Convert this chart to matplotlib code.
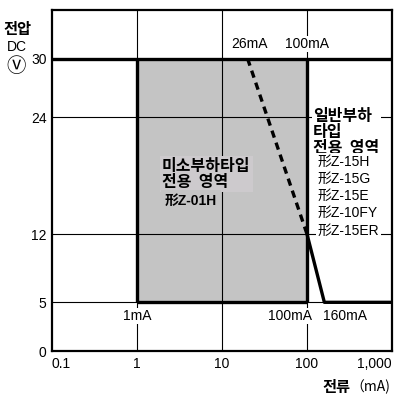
import matplotlib
matplotlib.use("Agg")
import matplotlib.pyplot as plt

plt.rcParams["font.family"] = ["Liberation Sans", "Noto Sans CJK KR", "DejaVu Sans"]
KR = ["Noto Sans CJK KR", "Noto Sans CJK JP", "DejaVu Sans"]
LAT = ["Liberation Sans", "Noto Sans CJK JP", "DejaVu Sans"]

# axis ticks
x_ticks = [0.1, 1, 10, 100, 1000]
x_tick_labels = ["0.1", "1", "10", "100", "1,000"]
y_ticks = [0, 5, 12, 24, 30]

# micro-load region (shaded box)
box_current = [1, 100]
box_voltage = [5, 30]

# general-load boundary: 100mA@12V -> 160mA@5V -> along 5V
general_current = [100, 160, 1000]
general_voltage = [12, 5, 5]

# dashed limit: 26mA@30V -> 100mA@12V
dash_current = [20, 100]
dash_voltage = [30, 12]

micro_lines = ["미소부하타입", "전용  영역"]
general_lines = ["일반부하", "타입", "전용  영역"]
general_models = ["形Z-15H", "形Z-15G", "形Z-15E", "形Z-10FY", "形Z-15ER"]

FILL = "#c4c4c4"

fig = plt.figure(figsize=(4, 3.98), dpi=100)
ax = fig.add_axes([0.13, 0.118, 0.85, 0.857])
ax.set_xscale("log")
ax.set_xlim(0.1, 1000)
ax.set_ylim(0, 35)

# grid
for x in x_ticks[1:4]:
    ax.axvline(x, color="black", lw=0.8, zorder=1)
for y in y_ticks[1:]:
    ax.axhline(y, color="black", lw=0.8, zorder=1)

ax.fill_between(box_current, box_voltage[0], box_voltage[1], color=FILL, lw=0, zorder=0.5)

thick = dict(color="black", lw=2.4, solid_capstyle="butt", zorder=4)
ax.plot([box_current[0]] * 2, box_voltage, **thick)
ax.plot([box_current[1]] * 2, box_voltage, **thick)
ax.plot(box_current, [box_voltage[0]] * 2, **thick)
ax.plot([0.1, 1000], [box_voltage[1]] * 2, **thick)
ax.plot(general_current, general_voltage, **thick)
ax.plot(dash_current, dash_voltage, color="black", lw=2.4, ls=(0, (2.2, 1.6)), zorder=4)

ax.set_xticks(x_ticks)
ax.set_xticklabels(x_tick_labels)
ax.minorticks_off()
ax.set_yticks(y_ticks)
ax.tick_params(length=0, labelsize=10, pad=4)
labels = ax.get_xticklabels()
labels[0].set_ha("left")
labels[-1].set_ha("right")
for s in ax.spines.values():
    s.set_linewidth(1.6)

# current annotations
wb = dict(facecolor="white", edgecolor="none", pad=0.5)
for xv, yv, s in [(21, 31.5, "26mA"), (100, 31.5, "100mA"), (1, 3.6, "1mA"),
                  (63, 3.6, "100mA"), (280, 3.6, "160mA")]:
    ax.text(xv, yv, s, ha="center", va="center", fontsize=10, bbox=wb, zorder=5)

# micro-load region label
ax.text(1.97, 18.2, "\n".join(micro_lines), family=KR, fontsize=11.5, fontweight="bold",
        ha="left", va="center", linespacing=1.0, zorder=5,
        bbox=dict(facecolor="#cdcacd", edgecolor="none", pad=1.5))
ax.text(2.13, 15.4, "形Z-01H", family=LAT, fontsize=10, fontweight="bold",
        ha="left", va="center", zorder=5,
        bbox=dict(facecolor=FILL, edgecolor="none", pad=3))

# general-load region label
ax.text(118, 22.5, "\n".join(general_lines), family=KR, fontsize=11.5, fontweight="bold",
        ha="left", va="center", linespacing=1.0, zorder=5,
        bbox=dict(facecolor="white", edgecolor="none", pad=1.0))
ax.text(134, 15.9, "\n".join(general_models), family=LAT, fontsize=10,
        ha="left", va="center", linespacing=1.3, zorder=5,
        bbox=dict(facecolor="white", edgecolor="none", pad=1.0))

fig.text(17 / 400, 1 - 29 / 398, "전압", family=KR, fontsize=11, fontweight="bold",
         ha="center", va="center")
fig.text(17 / 400, 1 - 47 / 398, "DC", fontsize=10, ha="center", va="center")
fig.text(16 / 400, 1 - 67 / 398, "Ⓥ", family=KR, fontsize=14, ha="center", va="center")
fig.text(350 / 400, 1 - 387 / 398, "전류", family=KR, fontsize=11, fontweight="bold",
         ha="right", va="center")
fig.text(390 / 400, 1 - 387 / 398, "（mA)", family=KR, fontsize=10,
         ha="right", va="center")

fig.savefig("out.png", dpi=100)
